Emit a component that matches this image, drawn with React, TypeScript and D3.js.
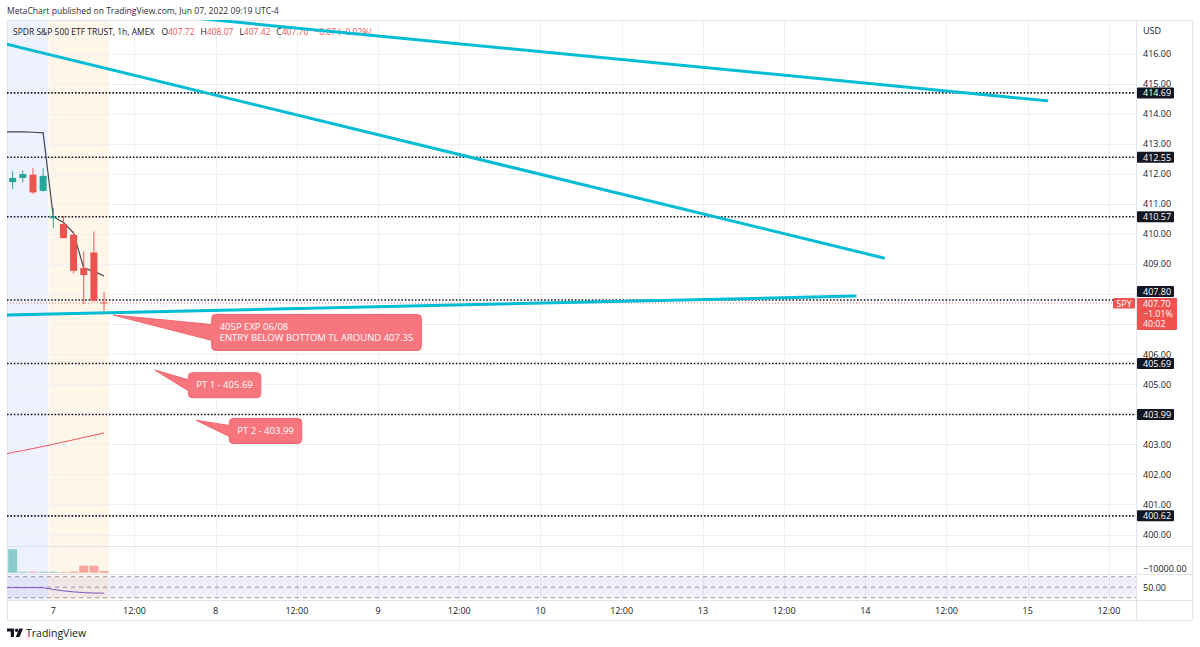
import React, { useEffect, useRef } from "react";
import * as d3 from "d3";

const W = 1200;
const H = 647;

const headerText = "MetaChart published on TradingView.com, Jun 07, 2022 09:19 UTC-4";
const symbolTitle = "SPDR S&P 500 ETF TRUST, 1h, AMEX";
const ohlcKeys = ["O", "H", "L", "C"];
const ohlcValues = ["407.72", "408.07", "407.42", "407.70"];
const changeText = "−0.07 (−0.02%)";

// 1h bars, index relative to Jun 07 04:00 (extended session: 16 bars per day)
const barIndex = [-4, -3, -2, -1, 0, 1, 2, 3, 4, 5];
const opens = [411.72, 411.86, 411.97, 411.43, 410.52, 410.33, 409.97, 408.86, 409.38, 407.72];
const highs = [412.08, 412.11, 412.19, 412.19, 410.86, 410.6, 410.08, 409.41, 410.08, 408.07];
const lows = [411.49, 411.71, 411.33, 411.41, 410.19, 409.85, 408.69, 407.66, 407.75, 407.42];
const closes = [411.86, 411.99, 411.38, 411.93, 410.57, 409.86, 408.77, 408.63, 407.78, 407.7];
const volumes = [2350, 95, 95, 95, 100, 55, 110, 700, 700, 170];

const lineIndex = [-5, -4, -3, -2, -1, 0, 1, 2, 3, 4, 5];
const blackLine = [413.39, 413.39, 413.39, 413.38, 413.36, 410.57, 410.38, 410.03, 408.86, 408.76, 408.6];
const maLine = [402.66, 402.73, 402.79, 402.86, 402.93, 403.0, 403.08, 403.15, 403.23, 403.3, 403.38];
const rsiLine = [49.3, 49.3, 49.2, 49.2, 49.0, 45.8, 43.0, 41.2, 39.6, 38.9, 38.6];
const rsiBands = [70, 50, 30];

const timeTickLabels = ["7", "12:00", "8", "12:00", "9", "12:00", "10", "12:00", "13", "12:00", "14", "12:00", "15", "12:00"];
const barsPerTick = 8;
const priceTicks = [400, 401, 402, 403, 404, 405, 406, 407, 408, 409, 410, 411, 412, 413, 414, 415, 416];
const levels = [414.69, 412.55, 410.57, 407.8, 405.69, 403.99, 400.62];

const trendLines = [
  [[14.4, 417.16], [97.9, 414.43]],
  [[-4.6, 416.31], [81.8, 409.2]],
  [[-4.6, 407.3], [79.0, 407.93]],
];

const callouts = [
  { lines: ["405P EXP 06/08", "ENTRY BELOW BOTTOM TL AROUND 407.35"], tip: [5.9, 407.3], box: [15.6, 407.32] },
  { lines: ["PT 1 - 405.69"], tip: [10.0, 405.47], box: [13.3, 405.38] },
  { lines: ["PT 2 - 403.99"], tip: [14.06, 403.8], box: [17.34, 403.86] },
];

const sessions = [
  { from: -8, to: -0.5, kind: "post" },
  { from: -0.5, to: 5.5, kind: "pre" },
];

const symbol = "SPY";
const lastPrice = 407.7;
const lastPriceText = "407.70";
const lastChangePct = "−1.01%";
const countdown = "40:02";
const volumeAxisLabel = "−10000.00";
const rsiAxisLabel = "50.00";

export default function App() {
  const ref = useRef<SVGSVGElement>(null);

  useEffect(() => {
    const svg = d3.select(ref.current);
    svg.selectAll("*").remove();
    const FONT = "'Open Sans', 'Noto Sans', sans-serif";
    const TXT = "#131722";
    const L = 7, R = 1136, AR = 1192, T = 20, mainB = 546, volB = 574, indB = 600, axB = 620;

    const x = d3.scaleLinear().domain([-4.56, 106.67]).range([L, R]);
    const y = d3.scaleLinear().domain([400, 416]).range([534.5, 53.5]);
    const yVol = d3.scaleLinear().domain([0, d3.max(volumes) as number]).range([572.7, 549.3]);
    const yRsi = d3.scaleLinear().domain([30, 70]).range([597.7, 576.7]);

    svg.append("rect").attr("width", W).attr("height", H).attr("fill", "#ffffff");

    const defs = svg.append("defs");
    defs.append("clipPath").attr("id", "mainClip").append("rect")
      .attr("x", L).attr("y", T).attr("width", R - L).attr("height", mainB - T);
    defs.append("clipPath").attr("id", "plotClip").append("rect")
      .attr("x", L).attr("y", T).attr("width", R - L).attr("height", indB - T);
    defs.append("clipPath").attr("id", "volClip").append("rect")
      .attr("x", L).attr("y", mainB).attr("width", R - L).attr("height", volB - mainB);
    defs.append("clipPath").attr("id", "rsiClip").append("rect")
      .attr("x", L).attr("y", volB).attr("width", R - L).attr("height", indB - volB);

    const plot = svg.append("g").attr("clip-path", "url(#plotClip)");
    sessions.forEach((s) => {
      plot.append("rect")
        .attr("x", x(s.from)).attr("width", x(s.to) - x(s.from))
        .attr("y", T).attr("height", indB - T)
        .attr("fill", s.kind === "post" ? "#EEF2FE" : "#FFF6EA");
    });

    // grid
    const grid = plot.append("g").attr("stroke", "#EEF0F5").attr("stroke-width", 1);
    priceTicks.forEach((p) => {
      grid.append("line").attr("x1", L).attr("x2", R)
        .attr("y1", Math.round(y(p)) + 0.5).attr("y2", Math.round(y(p)) + 0.5);
    });
    timeTickLabels.forEach((_, k) => {
      const xx = Math.round(x(k * barsPerTick)) + 0.5;
      grid.append("line").attr("x1", xx).attr("x2", xx).attr("y1", T).attr("y2", indB);
    });

    // rsi band
    plot.append("rect").attr("x", L).attr("width", R - L)
      .attr("y", yRsi(70)).attr("height", yRsi(30) - yRsi(70))
      .attr("fill", "rgba(126,87,194,0.10)");
    rsiBands.forEach((b) => {
      plot.append("line").attr("x1", L).attr("x2", R)
        .attr("y1", yRsi(b)).attr("y2", yRsi(b))
        .attr("stroke", "#9598A1").attr("stroke-width", 1).attr("stroke-dasharray", "4,4");
    });

    // pane borders
    const border = svg.append("g").attr("stroke", "#E0E3EB").attr("stroke-width", 1);
    [T, mainB, volB, indB, axB].forEach((yy) => {
      border.append("line").attr("x1", L).attr("x2", AR).attr("y1", yy + 0.5).attr("y2", yy + 0.5);
    });
    [L, R, AR].forEach((xx) => {
      border.append("line").attr("x1", xx + 0.5).attr("x2", xx + 0.5).attr("y1", T).attr("y2", axB);
    });

    // header + legend (under the drawings)
    svg.append("text").attr("x", 7).attr("y", 11).attr("dominant-baseline", "central")
      .attr("font-family", FONT).attr("font-size", 8.6).attr("fill", "#2A2E39").text(headerText);
    const legend = svg.append("text").attr("x", 13).attr("y", 31).attr("dominant-baseline", "central")
      .attr("font-family", FONT).attr("font-size", 8.5).attr("fill", TXT);
    legend.append("tspan").text(symbolTitle);
    ohlcKeys.forEach((k, i) => {
      legend.append("tspan").attr("dx", i === 0 ? 7 : 6).attr("fill", TXT).text(k);
      legend.append("tspan").attr("fill", "#EF5350").text(ohlcValues[i]);
    });
    legend.append("tspan").attr("dx", 6).attr("fill", "#EF5350").text(changeText);

    const main = svg.append("g").attr("clip-path", "url(#mainClip)");

    // horizontal levels
    levels.forEach((lv) => {
      main.append("line").attr("x1", L).attr("x2", R)
        .attr("y1", y(lv)).attr("y2", y(lv))
        .attr("stroke", TXT).attr("stroke-width", 1.6).attr("stroke-dasharray", "1.6,1.8");
    });

    // current price line
    main.append("line").attr("x1", L).attr("x2", 1113)
      .attr("y1", y(lastPrice)).attr("y2", y(lastPrice))
      .attr("stroke", "#EF5350").attr("stroke-width", 1).attr("stroke-dasharray", "1,2").attr("opacity", 0.8);

    // lines
    const mk = (arr: number[], ys: (v: number) => number) =>
      d3.line<number>().x((_, i) => x(lineIndex[i])).y((v) => ys(v))(arr);
    main.append("path").attr("d", mk(maLine, y) as string)
      .attr("fill", "none").attr("stroke", "#F7525F").attr("stroke-width", 1);
    main.append("path").attr("d", mk(blackLine, y) as string)
      .attr("fill", "none").attr("stroke", "#434651").attr("stroke-width", 1.2);

    // candles
    barIndex.forEach((bi, i) => {
      const up = closes[i] >= opens[i];
      const col = up ? "#26A69A" : "#EF5350";
      const cx = x(bi);
      main.append("line").attr("x1", cx).attr("x2", cx)
        .attr("y1", y(highs[i])).attr("y2", y(lows[i]))
        .attr("stroke", col).attr("stroke-width", 1);
      const top = y(Math.max(opens[i], closes[i]));
      const bot = y(Math.min(opens[i], closes[i]));
      main.append("rect").attr("x", cx - 3.5).attr("width", 7)
        .attr("y", top).attr("height", Math.max(1, bot - top)).attr("fill", col);
    });

    // volume
    const vol = svg.append("g").attr("clip-path", "url(#volClip)");
    barIndex.forEach((bi, i) => {
      const up = closes[i] >= opens[i];
      vol.append("rect").attr("x", x(bi) - 4.5).attr("width", 9)
        .attr("y", yVol(volumes[i])).attr("height", yVol(0) - yVol(volumes[i]))
        .attr("fill", up ? "rgba(38,166,154,0.5)" : "rgba(239,83,80,0.5)");
    });

    // rsi line
    const rsi = svg.append("g").attr("clip-path", "url(#rsiClip)");
    rsi.append("path").attr("d", mk(rsiLine, yRsi) as string)
      .attr("fill", "none").attr("stroke", "#7E57C2").attr("stroke-width", 1);

    // trend lines
    trendLines.forEach((tl) => {
      main.append("line")
        .attr("x1", x(tl[0][0])).attr("y1", y(tl[0][1]))
        .attr("x2", x(tl[1][0])).attr("y2", y(tl[1][1]))
        .attr("stroke", "#00BCD4").attr("stroke-width", 3).attr("stroke-linecap", "round");
    });

    // callouts
    callouts.forEach((c) => {
      const g = svg.append("g");
      const path = g.append("path");
      const bx = x(c.box[0]);
      const by = y(c.box[1]);
      const n = c.lines.length;
      const h = n * 11 + 14;
      const texts = c.lines.map((ln, k) =>
        g.append("text").attr("x", bx + 8)
          .attr("y", by + h / 2 + (k - (n - 1) / 2) * 11 - 0.5)
          .attr("dominant-baseline", "central")
          .attr("font-family", FONT).attr("font-size", 9.5).attr("fill", "#ffffff")
          .text(ln)
      );
      const maxW = d3.max(texts, (t) => (t.node() as SVGTextElement).getComputedTextLength()) as number;
      const w = maxW + 16;
      const r = 4;
      const cy = by + h / 2;
      const pw = h * 0.22;
      const tx = x(c.tip[0]);
      const ty = y(c.tip[1]);
      const d = [
        `M${bx + r},${by}`,
        `H${bx + w - r}`,
        `A${r},${r} 0 0 1 ${bx + w},${by + r}`,
        `V${by + h - r}`,
        `A${r},${r} 0 0 1 ${bx + w - r},${by + h}`,
        `H${bx + r}`,
        `A${r},${r} 0 0 1 ${bx},${by + h - r}`,
        `V${cy + pw}`,
        `L${tx},${ty}`,
        `L${bx},${cy - pw}`,
        `V${by + r}`,
        `A${r},${r} 0 0 1 ${bx + r},${by}`,
        "Z",
      ].join(" ");
      path.attr("d", d).attr("fill", "#F7767E").attr("stroke", "#F0646D").attr("stroke-width", 1);
    });

    // price axis
    const ax = svg.append("g").attr("font-family", FONT).attr("font-size", 9).attr("fill", TXT);
    ax.append("text").attr("x", 1143).attr("y", 30).attr("dominant-baseline", "central").text("USD");

    const redTop = y(lastPrice) - 5;
    const redH = 32;
    const boxCenters = levels.map((lv) => {
      let cyv = y(lv);
      if (cyv + 6 > redTop && cyv - 6 < redTop + redH) cyv = redTop - 6.5;
      return cyv;
    });
    const hidden = (yy: number) =>
      boxCenters.some((bc) => Math.abs(bc - yy) < 6) || (yy > redTop && yy < redTop + redH);

    priceTicks.forEach((p) => {
      if (hidden(y(p))) return;
      ax.append("text").attr("x", 1143).attr("y", y(p)).attr("dominant-baseline", "central")
        .text(d3.format(".2f")(p));
    });
    ax.append("text").attr("x", 1143).attr("y", 568).attr("dominant-baseline", "central").text(volumeAxisLabel);
    ax.append("text").attr("x", 1143).attr("y", yRsi(50)).attr("dominant-baseline", "central").text(rsiAxisLabel);

    levels.forEach((lv, i) => {
      const cyv = boxCenters[i];
      ax.append("rect").attr("x", 1137).attr("width", 37).attr("y", cyv - 5.5).attr("height", 11)
        .attr("rx", 1).attr("fill", TXT);
      ax.append("text").attr("x", 1143).attr("y", cyv).attr("dominant-baseline", "central")
        .attr("fill", "#ffffff").text(d3.format(".2f")(lv));
    });
    ax.append("rect").attr("x", 1137).attr("width", 40).attr("y", redTop).attr("height", redH)
      .attr("rx", 1).attr("fill", "#EF5350");
    [lastPriceText, lastChangePct, countdown].forEach((t, i) => {
      ax.append("text").attr("x", 1143).attr("y", redTop + 5.5 + i * 10.3).attr("dominant-baseline", "central")
        .attr("font-size", 8.8).attr("fill", "#ffffff").text(t);
    });
    ax.append("rect").attr("x", 1113).attr("width", 22).attr("y", redTop).attr("height", 10.5)
      .attr("rx", 1).attr("fill", "#EF5350");
    ax.append("text").attr("x", 1124).attr("y", redTop + 5.3).attr("text-anchor", "middle")
      .attr("dominant-baseline", "central").attr("fill", "#ffffff").text(symbol);

    // time axis
    timeTickLabels.forEach((lab, k) => {
      ax.append("text").attr("x", x(k * barsPerTick)).attr("y", 610.5)
        .attr("text-anchor", "middle").attr("dominant-baseline", "central").text(lab);
    });

    // logo
    const logo = svg.append("g").attr("fill", TXT);
    logo.append("path").attr("d", "M7,628.5 H14 V637 H10.8 V631.5 H7 Z");
    logo.append("circle").attr("cx", 16.6).attr("cy", 630.2).attr("r", 1.7);
    logo.append("path").attr("d", "M19.2,628.5 H23 L19.6,637 H15.8 Z");
    svg.append("text").attr("x", 26).attr("y", 633).attr("dominant-baseline", "central")
      .attr("font-family", FONT).attr("font-size", 10.5).attr("fill", TXT).text("TradingView");
  }, []);

  return (
    <svg
      ref={ref}
      width={W}
      height={H}
      style={{ position: "absolute", left: 0, top: 0, display: "block" }}
    />
  );
}
